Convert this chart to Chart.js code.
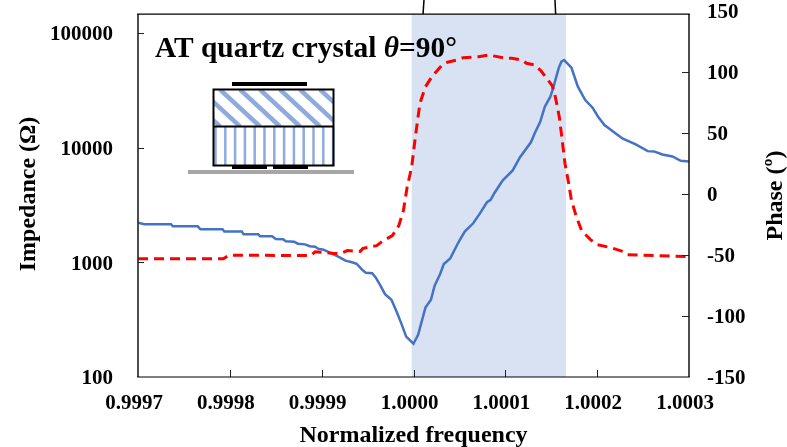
<!DOCTYPE html>
<html>
<head>
<meta charset="utf-8">
<script src="https://cdn.jsdelivr.net/npm/chart.js@4"></script>
<style>
html, body { margin: 0; padding: 0; background: #fff; }
canvas { display: block; }
</style>
</head>
<body>
<canvas id="chart" width="787" height="447"></canvas>
<script>
const impedanceFreq = [0.999700, 0.999707, 0.999736, 0.999738, 0.999765, 0.999768, 0.999792, 0.999794, 0.999813, 0.999815, 0.999831, 0.999833, 0.999846, 0.999850, 0.999858, 0.999861, 0.999870, 0.999874, 0.999882, 0.999887, 0.999893, 0.999896, 0.999902, 0.999909, 0.999918, 0.999926, 0.999933, 0.999938, 0.999944, 0.999948, 0.999955, 0.999959, 0.999964, 0.999969, 0.999976, 0.999982, 0.999987, 0.999992, 1.000000, 1.000005, 1.000013, 1.000019, 1.000023, 1.000029, 1.000033, 1.000040, 1.000048, 1.000050, 1.000056, 1.000065, 1.000072, 1.000080, 1.000084, 1.000088, 1.000097, 1.000108, 1.000116, 1.000128, 1.000132, 1.000138, 1.000143, 1.000149, 1.000152, 1.000158, 1.000161, 1.000164, 1.000172, 1.000179, 1.000187, 1.000195, 1.000201, 1.000208, 1.000222, 1.000228, 1.000242, 1.000255, 1.000262, 1.000271, 1.000282, 1.000291, 1.000300];
const impedance = [2219, 2144, 2144, 2060, 2060, 1939, 1939, 1852, 1852, 1753, 1753, 1684, 1684, 1598, 1586, 1523, 1514, 1454, 1434, 1383, 1369, 1315, 1289, 1213, 1119, 1033, 1002, 972, 862, 811, 803, 734, 625, 528, 471, 365, 289, 225, 195, 233, 403, 471, 625, 790, 967, 1082, 1445, 1545, 1862, 2188, 2644, 3339, 3504, 4000, 5168, 6320, 8260, 11170, 13330, 16820, 22730, 27780, 32880, 49120, 56090, 58030, 49720, 33960, 26000, 22280, 18590, 15740, 12970, 11960, 10660, 9320, 9260, 8720, 8380, 7680, 7570];

const phaseFreq = [0.999700, 0.999793, 0.999799, 0.999888, 0.999893, 0.999913, 0.999920, 0.999928, 0.999942, 0.999945, 0.999960, 0.999966, 0.999977, 0.999984, 0.999989, 0.999993, 0.999998, 1.000002, 1.000007, 1.000013, 1.000020, 1.000031, 1.000037, 1.000047, 1.000054, 1.000071, 1.000082, 1.000100, 1.000107, 1.000118, 1.000123, 1.000132, 1.000139, 1.000145, 1.000151, 1.000154, 1.000157, 1.000159, 1.000161, 1.000165, 1.000169, 1.000172, 1.000177, 1.000183, 1.000193, 1.000200, 1.000215, 1.000229, 1.000233, 1.000267, 1.000300];
const phase = [-53, -53, -50.1, -50.5, -47.3, -48.7, -48.9, -46.4, -47, -44.5, -42.3, -38.8, -34.1, -25.9, -13.6, 5.3, 22, 46.7, 74.3, 87.9, 96.1, 105.7, 108, 109.8, 111.7, 112.5, 113.9, 111.3, 111.2, 109.8, 107.1, 105.7, 100.8, 94.8, 88.8, 81.1, 70.2, 62, 49.7, 24.8, 8.6, -5.3, -17.7, -30, -37.6, -41.5, -44, -47.3, -49.7, -50.5, -51.4];

// black curve that runs out past the top of the frame
const arcFreq = [1.0000104, 1.0000115, 1.000132, 1.000154, 1.0001548];
const arcPhase = [147.5, 160, null, 160, 147.5];

const freqTicks = [0.9997, 0.9998, 0.9999, 1.0000, 1.0001, 1.0002, 1.0003];
const impedanceTicks = [100, 1000, 10000, 100000];
const phaseTicks = [-150, -100, -50, 0, 50, 100, 150];
const bandRange = [0.999998, 1.000166];
const frameTopPhase = 147.5;

const SERIF = '"Liberation Serif", "Times New Roman", serif';

const zip = (xs, ys) => xs.map((x, i) => ({ x: x, y: ys[i] }));
const useTicks = (list) => (scale) => { scale.ticks = list.map((v) => ({ value: v })); };
// stops the tick labels from pushing the plot area in
const fixSize = (prop, size) => (s) => {
    s[prop] = size;
    s.paddingTop = s.paddingBottom = s.paddingLeft = s.paddingRight = 0;
};

const framePlugin = {
    id: 'frame',
    beforeDatasetsDraw(chart) {
        const { ctx, scales } = chart;
        const x0 = scales.x.getPixelForValue(bandRange[0]);
        const x1 = scales.x.getPixelForValue(bandRange[1]);
        const top = scales.phase.getPixelForValue(frameTopPhase);
        ctx.save();
        ctx.fillStyle = '#D9E2F3';
        ctx.fillRect(x0, top, x1 - x0, scales.x.top - top);
        ctx.restore();
    },
    afterDraw(chart) {
        const { ctx, scales, chartArea } = chart;
        const top = scales.phase.getPixelForValue(frameTopPhase);
        const { left, right, bottom } = chartArea;
        ctx.save();
        ctx.lineWidth = 1;
        ctx.strokeStyle = '#222';
        // inward ticks
        freqTicks.slice(1, -1).forEach((v) => {
            const p = Math.round(scales.x.getPixelForValue(v)) + 0.5;
            ctx.beginPath(); ctx.moveTo(p, bottom); ctx.lineTo(p, bottom - 7); ctx.stroke();
        });
        impedanceTicks.slice(1).forEach((v) => {
            const p = Math.round(scales.y.getPixelForValue(v)) + 0.5;
            ctx.beginPath(); ctx.moveTo(left, p); ctx.lineTo(left + 6, p); ctx.stroke();
        });
        phaseTicks.slice(1, -1).forEach((v) => {
            const p = Math.round(scales.phase.getPixelForValue(v)) + 0.5;
            ctx.beginPath(); ctx.moveTo(right, p); ctx.lineTo(right - 7, p); ctx.stroke();
        });
        // frame
        ctx.lineWidth = 1.6;
        ctx.strokeStyle = '#222';
        ctx.beginPath();
        ctx.moveTo(left, top); ctx.lineTo(left, bottom);
        ctx.moveTo(right, top); ctx.lineTo(right, bottom);
        ctx.stroke();
        ctx.strokeStyle = '#000';
        ctx.lineWidth = 1.2;
        ctx.beginPath();
        ctx.moveTo(left - 0.8, top); ctx.lineTo(right + 0.8, top);
        ctx.moveTo(left - 0.8, bottom); ctx.lineTo(right + 0.8, bottom);
        ctx.stroke();
        ctx.restore();
        drawHeading(ctx);
        drawPhaseTitle(ctx, (top + bottom) / 2);
        drawCrystal(ctx);
    }
};

function drawHeading(ctx) {
    ctx.save();
    ctx.fillStyle = '#000';
    ctx.textBaseline = 'alphabetic';
    ctx.textAlign = 'left';
    let x = 155;
    const y = 57;
    [['AT quartz crystal ', 'bold'], ['θ', 'italic bold'], ['=90°', 'bold']].forEach(([text, style]) => {
        ctx.font = `${style} 29.4px ${SERIF}`;
        ctx.fillText(text, x, y);
        x += ctx.measureText(text).width;
    });
    ctx.restore();
}

// the right axis title reads upward, which the scale title can't do
function drawPhaseTitle(ctx, y) {
    ctx.save();
    ctx.translate(776, y);
    ctx.rotate(-Math.PI / 2);
    ctx.fillStyle = '#000';
    ctx.textAlign = 'center';
    ctx.textBaseline = 'middle';
    ctx.font = `bold 24px ${SERIF}`;
    ctx.fillText('Phase (º)', 0, 0);
    ctx.restore();
}

// inset sketch of the two layer stack
function drawCrystal(ctx) {
    const L = 213.5, R = 333.5, T = 89.5, M = 126.5, B = 165.5;
    ctx.save();
    ctx.strokeStyle = '#8FAADC';
    ctx.save();
    ctx.beginPath(); ctx.rect(L, T, R - L, M - T); ctx.clip();
    ctx.lineWidth = 4.5;
    for (let sx = 180; sx < R; sx += 20) {
        ctx.beginPath(); ctx.moveTo(sx, T); ctx.lineTo(sx + 40, M); ctx.stroke();
    }
    ctx.restore();
    ctx.lineWidth = 2.5;
    for (let sx = L + 2; sx < R; sx += 9.8) {
        ctx.beginPath(); ctx.moveTo(sx, M); ctx.lineTo(sx, B); ctx.stroke();
    }
    ctx.strokeStyle = '#000';
    ctx.lineWidth = 2;
    ctx.strokeRect(L, T, R - L, B - T);
    ctx.beginPath(); ctx.moveTo(L, M); ctx.lineTo(R, M); ctx.stroke();
    ctx.fillStyle = '#000';
    ctx.fillRect(232, 82, 75, 4);
    ctx.fillRect(232, 165, 35, 4);
    ctx.fillRect(273, 165, 35, 4);
    ctx.fillStyle = '#A6A6A6';
    ctx.fillRect(188, 170, 166, 4);
    ctx.restore();
}

const canvas = document.getElementById('chart');
canvas.getContext('2d').letterSpacing = '0.2px';

const tickFont = { family: SERIF, size: 21, weight: 'bold' };
const titleFont = { family: SERIF, size: 24, weight: 'bold' };

new Chart(canvas.getContext('2d'), {
    type: 'line',
    data: {
        datasets: [
            { data: zip(phaseFreq, phase), yAxisID: 'phase', borderColor: '#FF0000', borderWidth: 3, borderDash: [10, 6], pointRadius: 0, tension: 0 },
            { data: zip(impedanceFreq, impedance), yAxisID: 'y', borderColor: '#4472C4', borderWidth: 2.5, pointRadius: 0, tension: 0 },
            { data: zip(arcFreq, arcPhase), yAxisID: 'phase', borderColor: '#000', borderWidth: 1.5, pointRadius: 0, tension: 0, clip: false, spanGaps: false }
        ]
    },
    options: {
        responsive: false,
        animation: false,
        events: [],
        layout: { padding: { top: 11, left: 0, right: 0, bottom: 0 } },
        plugins: { legend: { display: false }, tooltip: { enabled: false } },
        scales: {
            x: {
                type: 'linear',
                min: 0.9997,
                max: 1.0003,
                afterBuildTicks: useTicks(freqTicks),
                afterFit: fixSize('height', 70),
                grid: { display: false },
                border: { display: false },
                ticks: { color: '#000', font: tickFont, autoSkip: false, maxRotation: 0, padding: 6, labelOffset: -4, callback: (v) => v.toFixed(4) },
                title: { display: true, text: 'Normalized frequency', color: '#000', font: titleFont, padding: { top: 0, bottom: -3 } }
            },
            y: {
                type: 'logarithmic',
                position: 'left',
                min: 100,
                max: 155300,
                afterBuildTicks: useTicks(impedanceTicks),
                afterFit: fixSize('width', 138),
                grid: { display: false },
                border: { display: false },
                ticks: { color: '#000', font: tickFont, autoSkip: false, padding: 17, labelOffset: 2, callback: (v) => String(v) },
                title: { display: true, text: 'Impedance (Ω)', color: '#000', font: titleFont, padding: { top: 14, bottom: 0 } }
            },
            phase: {
                type: 'linear',
                position: 'right',
                min: -150,
                max: 150,
                afterBuildTicks: useTicks(phaseTicks),
                afterFit: fixSize('width', 98),
                grid: { display: false },
                border: { display: false },
                ticks: { color: '#000', font: tickFont, autoSkip: false, padding: 10, labelOffset: 2, callback: (v) => String(v) }
            }
        }
    },
    plugins: [framePlugin]
});
</script>
</body>
</html>
